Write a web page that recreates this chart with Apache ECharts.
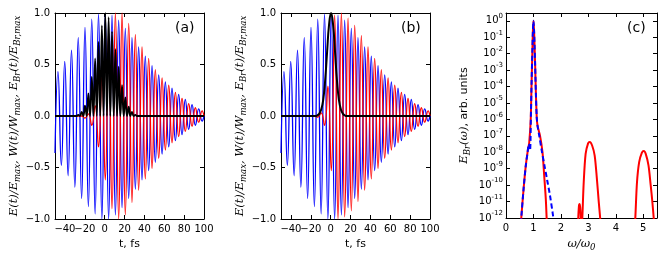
<!DOCTYPE html>
<html><head><meta charset="utf-8">
<script src="https://cdn.jsdelivr.net/npm/echarts@6/dist/echarts.min.js"></script>
<style>html,body{margin:0;padding:0;background:#fff}#c{width:664px;height:257px}</style>
</head><body><div id="c"></div>
<script>
// ---- tick labels ----
const timeTicks = [-40, -20, 0, 20, 40, 60, 80, 100];
const timeLabelsMain = [-40, 0, 20, 40, 60, 80, 100];
const timeLabelsExtra = [-20];
const fieldTicks = [-1, -0.5, 0, 0.5, 1];
const omegaTicks = [0, 1, 2, 3, 4, 5];
const decadeTicks = [-12, -11, -10, -9, -8, -7, -6, -5, -4, -3, -2, -1, 0];

// ---- panels (a),(b): field extrema times (fs) ----
const extremaT = [-50,-47,-43.6,-40.2,-36.8,-33.4,-30,-26.6,-23.2,-19.8,-16.4,-13,-9.6,-6.2,-2.8,0.6,4,7.4,10.8,14.1,17.5,20.8,24.2,27.5,30.9,34.2,37.6,40.9,44.3,47.7,51,54.4,57.8,61.1,64.5,67.8,71.2,74.5,77.9,81.2,84.6,88,91.3,94.7,98.1,100];
// blue field E(t)/Emax (same in a and b)
const blueV = [-0.36,0.43,-0.48,0.53,-0.58,0.64,-0.69,0.76,-0.80,0.86,-0.88,0.94,-0.95,0.99,-1.00,0.99,-1.00,0.98,-0.96,0.93,-0.89,0.85,-0.80,0.76,-0.71,0.67,-0.62,0.58,-0.53,0.49,-0.45,0.40,-0.37,0.33,-0.30,0.27,-0.24,0.21,-0.18,0.16,-0.13,0.11,-0.09,0.07,-0.05,0.0];
// red field, panel (a)
const redAV = [0,0,0,0,0,0,0,0,0,-0.02,0.02,-0.09,0.10,-0.30,0.40,-0.62,0.82,-0.90,1.00,-1.00,1.00,-0.96,0.90,-0.84,0.79,-0.72,0.67,-0.61,0.56,-0.51,0.45,-0.41,0.37,-0.33,0.30,-0.26,0.23,-0.20,0.17,-0.15,0.12,-0.10,0.08,-0.06,0.05,0];
// red field, panel (b)
const redBV = [0,0,0,0,0,0,0,0,0,0,0,-0.01,0.03,-0.09,0.29,-0.53,0.98,-1.00,1.00,-0.98,0.95,-0.92,0.88,-0.83,0.78,-0.72,0.67,-0.61,0.56,-0.51,0.45,-0.41,0.37,-0.33,0.30,-0.26,0.23,-0.20,0.17,-0.15,0.12,-0.10,0.08,-0.06,0.05,0];
// black W(t), panel (a)
const wAT = [-50,-28.3,-26.6,-24.9,-23.2,-21.5,-19.8,-18.1,-16.4,-14.7,-13,-11.3,-9.6,-7.9,-6.2,-4.5,-2.8,-1.1,0.6,2.3,4,5.7,7.4,9.1,10.8,12.45,14.1,15.8,17.5,19.15,20.8,22.5,24.2,25.85,27.5,29.2,30.9,32.6,100];
const wAV = [0,0,0.01,0,0.04,0,0.10,0,0.22,0,0.38,0,0.56,0,0.72,0,0.88,0,1.0,0,0.96,0,0.82,0,0.65,0,0.48,0,0.30,0,0.18,0,0.09,0,0.04,0,0.01,0,0];
// black W(t), panel (b)
const wBT = [-50,-15.6,-13.6,-11.6,-9.6,-7.6,-5.6,-3.6,-1.6,0.4,2.4,4.4,6.4,8.4,10.4,12.4,14.4,16.4,100];
const wBV = [0,0,0.005,0.02,0.06,0.15,0.34,0.62,0.89,1.0,0.89,0.62,0.34,0.15,0.06,0.02,0.005,0,0];

// ---- panel (c): spectra ----
const redW = [0.50,0.556,0.64,0.72,0.80,0.845,0.90,0.93,0.96,0.98,1.00,1.02,1.04,1.06,1.09,1.12,1.15,1.24,1.33,1.39,1.45,1.48,1.51,2.0,2.62,2.655,2.685,2.71,2.73,2.75,2.76,2.78,2.83,2.90,2.99,3.05,3.14,3.23,3.31,3.38,3.43,3.45,4.0,4.69,4.71,4.77,4.85,4.95,5.02,5.09,5.19,5.27,5.33,5.38,5.40];
const redS = [5e-14,1e-12,5.8e-11,1.5e-9,1.5e-8,3.8e-8,1e-6,1.3e-4,1.3e-2,0.25,1.0,0.32,0.032,2.5e-3,3.2e-5,1.3e-6,4e-7,1e-7,1e-8,4e-10,1.4e-11,1e-12,1e-13,null,3e-13,5e-12,7e-12,3e-12,3e-13,null,3e-13,1e-12,1.4e-10,8e-9,3.5e-8,4.2e-8,2.5e-8,6.3e-9,2.5e-10,9e-12,1e-12,4e-13,null,4e-13,1e-12,1.4e-10,2.5e-9,9.5e-9,1.2e-8,8e-9,1.6e-9,1e-10,1e-11,1e-12,4e-13];
const blueW = [0.50,0.556,0.64,0.72,0.78,0.83,0.875,0.91,0.93,0.96,0.98,1.00,1.02,1.04,1.06,1.09,1.12,1.15,1.20,1.30,1.40,1.50,1.60,1.70,1.75];
const blueS = [5e-14,1e-12,5.8e-11,1.5e-9,8e-9,3.2e-8,1.3e-8,3e-6,1.3e-4,1.3e-2,0.25,1.0,0.32,0.032,2.5e-3,3.2e-5,1.3e-6,4e-7,1.3e-7,1.3e-8,1.6e-9,2e-10,2.5e-11,2e-12,5e-13];

const zip = (xs, ys) => xs.map((x, i) => [x, ys[i]]);
const zipLog = (xs, ys) => xs.map((x, i) => [x, ys[i] == null ? null : Math.log10(ys[i])]);

const FONT = 'DejaVu Sans';
const minus = s => String(s).replace('-', '\u2212');

function axis(gi, pos, min, max, ticks, labels, showLabel, fmt, extra) {
  return Object.assign({
    type: 'value', gridIndex: gi, position: pos, min: min, max: max,
    axisLine: { show: true, onZero: false, lineStyle: { color: '#000', width: 1 } },
    axisTick: { show: true, inside: true, length: 4, customValues: ticks, lineStyle: { color: '#000', width: 1 } },
    axisLabel: { show: showLabel, customValues: labels, formatter: fmt, color: '#000', fontFamily: FONT, fontSize: 10, margin: 5,
                 hideOverlap: false, showMinLabel: true, showMaxLabel: true },
    splitLine: { show: false }
  }, extra || {});
}

const mathRich = {
  i: { fontFamily: 'DejaVu Serif', fontStyle: 'italic', fontSize: 11.5, lineHeight: 16, color: '#000' },
  s: { fontFamily: 'DejaVu Serif', fontStyle: 'italic', fontSize: 8.5, lineHeight: 10, verticalAlign: 'bottom', color: '#000' },
  n: { fontFamily: FONT, fontSize: 11, lineHeight: 16, color: '#000' }
};
const yTitleAB = '{i|E(t)/E}{s|max}{i|, W(t)/W}{s|max}{i|, E}{s|Br}{i|(t)/E}{s|Br,max}';
const yTitleC = '{i|E}{s|Br}{i|(\u03c9)}{n|, arb. units}';
const xTitleC = '{i|\u03c9/\u03c9}{s|0}';

const fieldFmt = v => minus(v.toFixed(1));
const timeFmt = v => minus(v);
const decFmt = v => '{b|10}{p|' + (v === 0 ? '0' : '-' + Math.abs(v)) + '}';

const xAxes = [], yAxes = [];
[0, 1].forEach(gi => {
  xAxes.push(axis(gi, 'bottom', -50, 100, timeTicks, timeLabelsMain, true, timeFmt, {
    name: 't, fs', nameLocation: 'middle', nameGap: 17,
    nameTextStyle: { fontFamily: FONT, fontSize: 11, color: '#000' }
  }));
  xAxes.push(axis(gi, 'top', -50, 100, timeTicks, timeTicks, false, timeFmt));
  yAxes.push(axis(gi, 'left', -1, 1, fieldTicks, fieldTicks, true, fieldFmt, {
    name: yTitleAB, nameLocation: 'middle', nameRotate: 90, nameGap: 30,
    nameTextStyle: { rich: mathRich }
  }));
  yAxes.push(axis(gi, 'right', -1, 1, fieldTicks, fieldTicks, false, fieldFmt));
});
xAxes.push(axis(2, 'bottom', 0, 5.5, omegaTicks, omegaTicks, true, v => String(v), {
  name: xTitleC, nameLocation: 'middle', nameGap: 18, nameTextStyle: { rich: mathRich }
}));
xAxes.push(axis(2, 'top', 0, 5.5, omegaTicks, omegaTicks, false, v => String(v)));
const yc = axis(2, 'left', -12, Math.log10(3), decadeTicks, decadeTicks, true, decFmt, {
  name: yTitleC, nameLocation: 'middle', nameRotate: 90, nameGap: 34,
  nameTextStyle: { rich: mathRich }
});
yc.axisLabel.margin = 3;
yc.axisLabel.rich = {
  b: { fontFamily: FONT, fontSize: 10, lineHeight: 16, color: '#000' },
  p: { fontFamily: FONT, fontSize: 7, lineHeight: 6, verticalAlign: 'top', color: '#000' }
};
yAxes.push(yc);
yAxes.push(axis(2, 'right', -12, Math.log10(3), decadeTicks, decadeTicks, false, decFmt));
// extra label-only axes carrying the "-20" labels that overlap "-40"
[0, 1].forEach(gi => {
  const ex = axis(gi, 'bottom', -50, 100, timeLabelsExtra, timeLabelsExtra, true, timeFmt);
  ex.axisLine.show = false;
  ex.axisTick.show = false;
  xAxes.push(ex);
});

function line(xi, yi, data, color, width, extra) {
  return Object.assign({
    type: 'line', xAxisIndex: xi, yAxisIndex: yi, data: data, showSymbol: false, symbol: 'none',
    smooth: 0.5, silent: true, lineStyle: { color: color, width: width }
  }, extra || {});
}

const series = [
  line(0, 0, zip(extremaT, blueV), '#0000ff', 1.3),
  line(0, 0, zip(extremaT, redAV), '#ff0000', 1.3),
  line(0, 0, zip(wAT, wAV), '#000000', 1.8),
  line(2, 2, zip(extremaT, blueV), '#0000ff', 1.3),
  line(2, 2, zip(extremaT, redBV), '#ff0000', 1.3),
  line(2, 2, zip(wBT, wBV), '#000000', 2),
  line(4, 4, zipLog(redW, redS), '#ff0000', 2, { smooth: 0.3 }),
  line(4, 4, zipLog(blueW, blueS), '#0000ff', 2, { smooth: 0.3, lineStyle: { color: '#0000ff', width: 2, type: [5, 3] } })
];

const panelLabel = (t, x) => ({ type: 'text', left: x, top: 21, style: { text: t, font: '14px "DejaVu Sans"', fill: '#000' } });

const option = {
  animation: false,
  grid: [
    { left: 55, top: 13, width: 149, height: 206 },
    { left: 281, top: 13, width: 149, height: 206 },
    { left: 506, top: 13, width: 151, height: 206 }
  ],
  xAxis: xAxes,
  yAxis: yAxes,
  series: series,
  graphic: [panelLabel('(a)', 175), panelLabel('(b)', 401), panelLabel('(c)', 627)]
};
const chart = echarts.init(document.getElementById('c'), null, { renderer: 'canvas' });
chart.setOption(option);
</script></body></html>
